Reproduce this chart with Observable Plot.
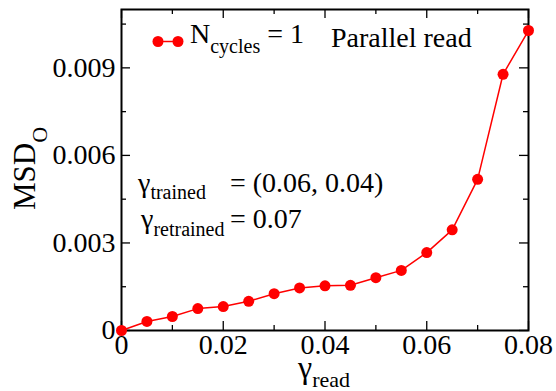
<!DOCTYPE html>
<html><head><meta charset="utf-8">
<script src="https://cdn.jsdelivr.net/npm/d3@7"></script>
<script src="https://cdn.jsdelivr.net/npm/@observablehq/plot@0.6"></script>
<style>html,body{margin:0;padding:0;background:#fff} svg{display:block} svg text{font-family:"Liberation Serif","Times New Roman",serif !important;}</style>
</head><body><div id="chart"></div>
<script>
const gammaRead = [0, 0.005, 0.01, 0.015, 0.02, 0.025, 0.03, 0.035, 0.04, 0.045, 0.05, 0.055, 0.06, 0.065, 0.07, 0.075, 0.08];
const msdO = [0, 0.00031, 0.00048, 0.00075, 0.00082, 0.00100, 0.00126, 0.00146, 0.00153, 0.00155, 0.00181, 0.00206, 0.00267, 0.00345, 0.00518, 0.00878, 0.01028];
const xTicks = [0, 0.02, 0.04, 0.06, 0.08];
const xTickLabels = ["0", "0.02", "0.04", "0.06", "0.08"];
const yTicks = [0, 0.003, 0.006, 0.009];
const yTickLabels = ["0", "0.003", "0.006", "0.009"];
const xMinor = [0.01, 0.03, 0.05, 0.07];
const yMinor = [0.0015, 0.0045, 0.0075, 0.0105];
const legendLabel = "N", legendSub = "cycles", legendValue = " = 1";
const modeLabel = "Parallel read";
const ann1Sub = "trained", ann1Value = "= (0.06, 0.04)";
const ann2Sub = "retrained", ann2Value = "= 0.07";

const data = gammaRead.map((g, i) => ({g, m: msdO[i]}));
const W = 556, H = 391, mt = 9, mb = 61, ml = 121, mr = 28;
const plotH = H - mt - mb, plotW = W - ml - mr;
const font = "Liberation Serif, Times New Roman, serif";
const red = "#ff0000";

const svg = Plot.plot({
  width: W, height: H, marginTop: mt, marginBottom: mb, marginLeft: ml, marginRight: mr,
  style: {fontFamily: font, fontSize: "28px", color: "#000", background: "#fff", overflow: "visible"},
  x: {domain: [0, 0.08]},
  y: {domain: [0, 0.011]},
  marks: [
    Plot.axisX(xTicks, {tickSize: 0, tickPadding: 4, fontSize: 28, label: null,
      tickFormat: d => xTickLabels[xTicks.indexOf(d)]}),
    Plot.axisY(yTicks, {tickSize: 0, tickPadding: 6, fontSize: 28, label: null,
      tickFormat: d => yTickLabels[yTicks.indexOf(d)]}),
    Plot.ruleX(xTicks, {x: d => d, insetTop: plotH - 9, stroke: "#000", strokeWidth: 1.3}),
    Plot.ruleX(xTicks, {x: d => d, insetBottom: plotH - 9, stroke: "#000", strokeWidth: 1.3}),
    Plot.ruleX(xMinor, {x: d => d, insetTop: plotH - 5, stroke: "#000", strokeWidth: 1.3}),
    Plot.ruleX(xMinor, {x: d => d, insetBottom: plotH - 5, stroke: "#000", strokeWidth: 1.3}),
    Plot.ruleY(yTicks, {y: d => d, insetRight: plotW - 9, stroke: "#000", strokeWidth: 1.3}),
    Plot.ruleY(yTicks, {y: d => d, insetLeft: plotW - 9, stroke: "#000", strokeWidth: 1.3}),
    Plot.ruleY(yMinor, {y: d => d, insetRight: plotW - 5, stroke: "#000", strokeWidth: 1.3}),
    Plot.ruleY(yMinor, {y: d => d, insetLeft: plotW - 5, stroke: "#000", strokeWidth: 1.3}),
    Plot.frame({stroke: "#000", strokeWidth: 2}),
    Plot.line(data, {x: "g", y: "m", stroke: red, strokeWidth: 1.5}),
    Plot.dot(data, {x: "g", y: "m", r: 5.5, fill: red, stroke: "none"})
  ]
});
document.getElementById("chart").appendChild(svg);

const s = d3.select(svg);
const g = s.append("g").style("font-family", font).attr("fill", "#000").attr("text-anchor", "start").style("text-anchor", "start");

// legend
g.append("line").attr("x1", 158).attr("x2", 178).attr("y1", 41.5).attr("y2", 41.5)
  .attr("stroke", red).attr("stroke-width", 1.5);
[158, 178].forEach(cx => g.append("circle").attr("cx", cx).attr("cy", 41.5).attr("r", 5.5).attr("fill", red));
const t1 = g.append("text").attr("x", 190).attr("y", 43).style("font-size", "28px");
t1.append("tspan").text(legendLabel);
t1.append("tspan").style("font-size", "20px").attr("dy", 10).text(legendSub);
t1.append("tspan").attr("dy", -10).style("font-size", "28px").text(legendValue);
g.append("text").attr("x", 331).attr("y", 47).style("font-size", "28px").text(modeLabel);

// annotations
const a1 = g.append("text").attr("x", 138).attr("y", 192).style("font-size", "28px");
a1.append("tspan").text("γ");
a1.append("tspan").style("font-size", "20px").attr("dy", 7).text(ann1Sub);
g.append("text").attr("x", 230).attr("y", 192).style("font-size", "28px").text(ann1Value);
const a2 = g.append("text").attr("x", 141).attr("y", 228).style("font-size", "28px");
a2.append("tspan").text("γ");
a2.append("tspan").style("font-size", "20px").attr("dy", 8).text(ann2Sub);
g.append("text").attr("x", 230).attr("y", 228).style("font-size", "28px").text(ann2Value);

// axis labels
const xl = g.append("text").attr("x", 298).attr("y", 378).style("font-size", "32px");
xl.append("tspan").text("γ");
xl.append("tspan").style("font-size", "22px").attr("dy", 9).text("read");
const yl = g.append("text").attr("transform", "translate(35,210) rotate(-90)").style("font-size", "31px");
yl.append("tspan").text("MSD");
yl.append("tspan").style("font-size", "22px").attr("dy", 12).text("O");
</script>
</body></html>
